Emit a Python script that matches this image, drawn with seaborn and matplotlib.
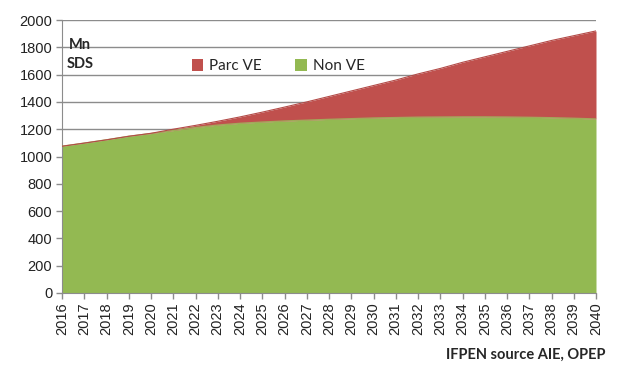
import matplotlib
matplotlib.use("Agg")
import matplotlib.pyplot as plt
import seaborn as sns
import numpy as np
import pandas as pd
from matplotlib.patches import Patch

years = list(range(2016, 2041))
non_ve = [1075, 1098, 1122, 1148, 1168, 1190, 1212, 1230, 1243, 1252, 1260, 1266,
          1272, 1277, 1282, 1285, 1288, 1289, 1290, 1290, 1289, 1287, 1284, 1280, 1275]
parc_ve = [0, 0, 0, 0, 2, 10, 16, 28, 47, 73, 102, 134, 168, 203, 238, 275, 317,
           356, 400, 440, 481, 523, 566, 605, 645]
y_ticks = list(range(0, 2001, 200))

GREEN = "#93b952"
RED = "#c0504d"

sns.set_style("white")
plt.rcParams["font.family"] = ["Liberation Sans", "DejaVu Sans"]

df = pd.DataFrame({"year": years, "non_ve": non_ve, "parc_ve": parc_ve})
df["total"] = df["non_ve"] + df["parc_ve"]

fig = plt.figure(figsize=(6.27, 3.85), dpi=100)
ax = fig.add_axes([62 / 627, 1 - 293 / 385, (596 - 62) / 627, (293 - 20) / 385])

for v in y_ticks[1:]:
    ax.axhline(v, color="#8c8c8c", lw=1.0, zorder=0)

ax.fill_between(df["year"], 0, df["non_ve"], color=GREEN, lw=0, zorder=2)
ax.fill_between(df["year"], df["non_ve"], df["total"], color=RED, lw=0, zorder=2)
sns.lineplot(data=df, x="year", y="non_ve", ax=ax, color="#a3a75a", lw=1.0, zorder=3)
sns.lineplot(data=df, x="year", y="total", ax=ax, color="#b34a47", lw=0.8, zorder=3)

ax.set_xlim(2016, 2040)
ax.set_ylim(0, 2000)
ax.set_yticks(y_ticks)
ax.set_yticklabels([str(v) for v in y_ticks], fontsize=10.5, color="#222222")
ax.set_xticks(years)
ax.set_xticklabels([str(y) for y in years], rotation=90, fontsize=10.5, color="#222222")
ax.set_xlabel("")
ax.set_ylabel("")
for s in ["top", "right"]:
    ax.spines[s].set_visible(False)
ax.spines["left"].set_color("#8c8c8c")
ax.spines["bottom"].set_color("#8c8c8c")
ax.tick_params(axis="both", which="both", length=4, width=1, color="#8c8c8c",
               direction="out", left=True, bottom=True, pad=3)

ax.text(0.012, 0.908, "Mn", transform=ax.transAxes,
        fontsize=10.5, fontweight="bold", family=["Lato", "DejaVu Sans"], ha="left", va="center")
ax.text(0.008, 0.838, "SDS", transform=ax.transAxes, fontsize=10.5, fontweight="bold",
        family=["Lato", "DejaVu Sans"], ha="left", va="center")

handles = [Patch(facecolor=RED, edgecolor="none"), Patch(facecolor=GREEN, edgecolor="none")]
leg = ax.legend(handles, ["Parc VE", "Non VE"], ncol=2, frameon=False,
                loc="center", bbox_to_anchor=(0.405, 0.83),
                prop={"family": ["Lato", "DejaVu Sans"], "size": 11},
                handlelength=0.75, handleheight=0.75, handletextpad=0.4, columnspacing=2.2)

fig.text(605 / 627, 1 - 355 / 385, "IFPEN source AIE, OPEP", ha="right", va="center",
         fontsize=10.5, fontweight="bold", family=["Lato", "DejaVu Sans"])

fig.savefig("out.png", dpi=100)
